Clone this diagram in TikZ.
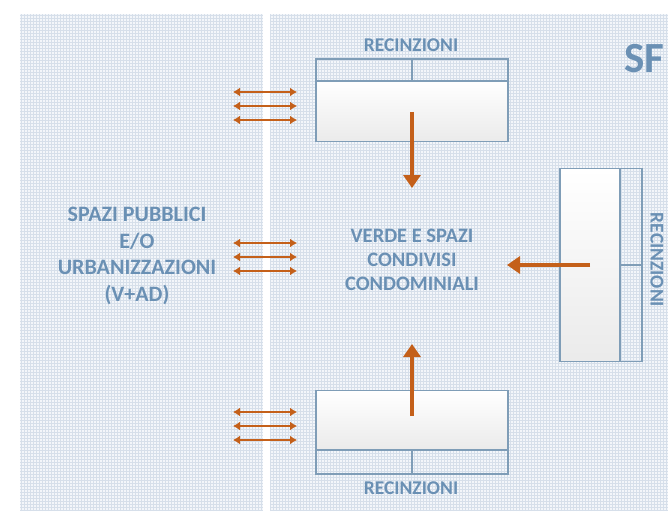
\documentclass[tikz,border=0pt]{standalone}
\usepackage{fontspec}
\setmainfont{Carlito}
\usetikzlibrary{arrows.meta}
\definecolor{txtblue}{HTML}{6A90B4}
\definecolor{linblue}{HTML}{7F9DB7}
\definecolor{arrorange}{HTML}{C4601A}
\definecolor{gridcol}{HTML}{D6DFEA}
\definecolor{panelcol}{HTML}{F3F6FA}
\tikzset{
  lbl/.style={text=txtblue, font=\bfseries\fontsize{19.5}{24}\selectfont, align=center, inner sep=0pt},
  lotbox/.style={draw=linblue, line width=1.8pt, top color=white, bottom color=gray!16, inner sep=0pt},
  fence/.style={draw=linblue, line width=1.8pt, inner sep=0pt},
  bigarrow/.style={arrorange, line width=3.5pt, -{Triangle[width=17pt,length=13pt]}},
  link/.style={arrorange, line width=2.4pt, {Latex[width=9pt,length=7pt]}-{Latex[width=9pt,length=7pt]}}
}
\begin{document}
\begin{tikzpicture}[x=1pt, y=-1pt]
  \useasboundingbox (0,0) rectangle (668,513);
  % background panels
  \fill[panelcol] (20,14) rectangle (263,511);
  \fill[panelcol] (270,14) rectangle (668,511);
  \draw[gridcol, line width=0.7pt, step=3pt] (20,14) grid (263,511);
  \draw[gridcol, line width=0.7pt, step=3pt] (270,14) grid (668,511);

  % lots with their fences
  \node[lotbox, minimum width=192pt, minimum height=61pt] (topbox) at (412,111) {};
  \node[fence, minimum width=192pt, minimum height=22pt] (topfence) at (412,70) {};
  \draw[linblue, line width=1.8pt] (topfence.north) -- (topfence.south);
  \node[lotbox, minimum width=192pt, minimum height=59pt] (botbox) at (412,420) {};
  \node[fence, minimum width=192pt, minimum height=24pt] (botfence) at (412,462) {};
  \draw[linblue, line width=1.8pt] (botfence.north) -- (botfence.south);
  \node[lotbox, minimum width=60pt, minimum height=193pt] (rbox) at (590,265) {};
  \node[fence, minimum width=22pt, minimum height=193pt] (rfence) at (631,265) {};
  \draw[linblue, line width=1.8pt] (rfence.west |- 0,265) -- (rfence.east |- 0,265);

  % labels
  \node[lbl] (toplbl) at (411,45) {RECINZIONI};
  \node[lbl] (botlbl) at (411,488) {RECINZIONI};
  \node[lbl, rotate=-90] (rlbl) at (657,260) {RECINZIONI};
  \node[lbl, font=\bfseries\fontsize{22}{26.5}\selectfont] (public) at (137,256) {SPAZI PUBBLICI\\E/O\\URBANIZZAZIONI\\(V+AD)};
  \node[lbl, font=\bfseries\fontsize{20.5}{24}\selectfont] (green) at (412,260) {VERDE E SPAZI\\CONDIVISI\\CONDOMINIALI};
  \node[text=txtblue, font=\bfseries\fontsize{43}{43}\selectfont, inner sep=0pt, anchor=base west] (sf) at (624,73) {SF};

  % arrows towards the shared green
  \coordinate (t1) at (412,112);
  \coordinate (t2) at (412,188);
  \coordinate (b1) at (412,416);
  \coordinate (b2) at (412,344);
  \coordinate (r1) at (590,265);
  \coordinate (r2) at (507,265);
  \draw[bigarrow] (t1) -- (t2);
  \draw[bigarrow] (b1) -- (b2);
  \draw[bigarrow] (r1) -- (r2);

  % exchanges with public spaces
  \foreach \y [count=\i] in {92,106,120,243,257,271,412,426,440} {
    \coordinate (la\i) at (233,\y);
    \coordinate (ra\i) at (297,\y);
    \draw[link] (la\i) -- (ra\i);
  }
\end{tikzpicture}
\end{document}
